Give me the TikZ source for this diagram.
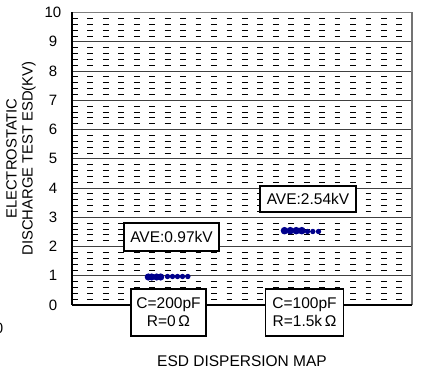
\documentclass[tikz,border=0pt]{standalone}
\usepackage{fontspec}
\setmainfont{Liberation Sans}
\definecolor{esdblue}{RGB}{0,0,140}
\begin{document}
\begin{tikzpicture}[x=1pt,y=-1pt,
  major/.style={draw=black!75, line width=0.9pt},
  minor/.style={draw=black, line width=0.7pt, dash pattern=on 5.8pt off 9.65pt},
  ylab/.style={font=\fontsize{15}{17}\selectfont, inner sep=0pt},
  infobox/.style={draw=black, line width=1.2pt, fill=white, inner sep=0pt, align=center, font=\fontsize{15.5}{18}\selectfont},
  titletext/.style={font=\fontsize{14.8}{16}\selectfont, inner sep=0pt, align=center},
  dotc/.style={fill=esdblue},
]
\useasboundingbox (0,0) rectangle (421,371);
% minor dashed grid
\foreach \k in {0,...,9}{
  \foreach \j in {1,...,4}{
    \draw[minor] (72,{305-(\k+\j/5)*29.25}) -- (412,{305-(\k+\j/5)*29.25});
  }
}
% major grid
\foreach \k in {1,...,9}{
  \draw[major] (72,{305-\k*29.25}) -- (412,{305-\k*29.25});
}
\draw[draw=black!50, line width=1.5pt] (72,12.5) -- (412,12.5);
\draw[draw=black!55, line width=1.3pt] (412,12.5) -- (412,305);
\draw[draw=black, line width=1.5pt] (72,12.5) -- (72,305);
\draw[draw=black, line width=1.3pt] (72,305) -- (412,305);
% axis numbers
\foreach \k in {0,...,10}{
  \node[ylab] (n\k) at (53,{305-\k*29.25}) {\k};
}
% data points group 1 (0.97 kV)
\foreach \x in {148.3,151.7,156.7,160.7}{ \fill[dotc] (\x,277) circle (3.6); }
\foreach \x in {167.5,172.5,177.5,182.5,187.8}{ \fill[dotc] (\x,276.5) circle (2.7); }
% data points group 2 (2.54 kV)
\foreach \x in {284.5,290.3,296.2,301.8}{ \fill[dotc] (\x,230.7) circle (3.8); }
\foreach \x in {307.5,312.8,318.5}{ \fill[dotc] (\x,231.5) circle (2.7); }
% info boxes
\node[infobox, minimum width=95, minimum height=28] (ave1) at (171.5,237) {AVE:0.97kV};
\node[infobox, minimum width=96, minimum height=26] (ave2) at (308,199) {AVE:2.54kV};
\node[infobox, minimum width=75, minimum height=47] (c1) at (168.5,312.5) {C=200pF\\R=0\,Ω};
\node[infobox, minimum width=77.6, minimum height=47] (c2) at (304.5,312.5) {C=100pF\\R=1.5k\,Ω};
% titles
\node[titletext, rotate=90] (ytitle) at (21,158.5) {ELECTROSTATIC\\DISCHARGE TEST ESD(KV)};
\node[font=\fontsize{15.5}{18}\selectfont, inner sep=0pt] (xtitle) at (242,361.5) {ESD DISPERSION MAP};
\node[ylab] (stray) at (-1,328) {0};
\end{tikzpicture}
\end{document}
